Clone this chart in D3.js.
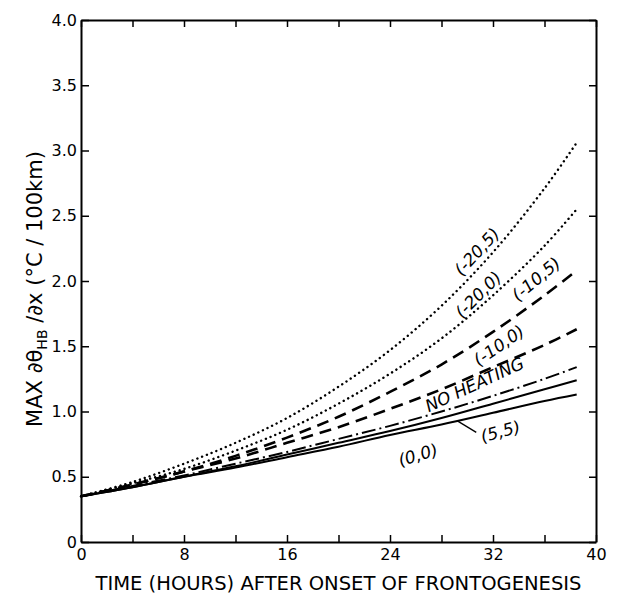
<!DOCTYPE html>
<html><head><meta charset="utf-8">
<script src="https://cdn.jsdelivr.net/npm/d3@7"></script>
<style>body{margin:0;background:#fff}</style>
</head><body><svg id="c" width="617" height="595"></svg>
<script>
// ---- data ----
const hours      = [0, 4, 8, 12, 16, 20, 24, 28, 32, 36, 38.5];
const s_m20_5    = [0.35, 0.46, 0.60, 0.76, 0.95, 1.19, 1.47, 1.81, 2.22, 2.71, 3.06];
const s_m20_0    = [0.35, 0.45, 0.56, 0.70, 0.86, 1.06, 1.29, 1.56, 1.89, 2.27, 2.55];
const s_m10_5    = [0.35, 0.44, 0.54, 0.66, 0.80, 0.96, 1.15, 1.36, 1.61, 1.89, 2.08];
const s_m10_0    = [0.35, 0.44, 0.54, 0.64, 0.76, 0.88, 1.02, 1.17, 1.34, 1.51, 1.63];
const s_noheat   = [0.35, 0.43, 0.51, 0.60, 0.69, 0.79, 0.89, 1.00, 1.12, 1.25, 1.34];
const s_5_5      = [0.35, 0.42, 0.50, 0.58, 0.67, 0.76, 0.85, 0.95, 1.06, 1.17, 1.24];
const s_0_0      = [0.35, 0.42, 0.50, 0.57, 0.65, 0.73, 0.82, 0.90, 0.99, 1.08, 1.13];
const seriesNames = ["(-20,5)", "(-20,0)", "(-10,5)", "(-10,0)", "NO HEATING", "(5,5)", "(0,0)"];
const seriesValues = [s_m20_5, s_m20_0, s_m10_5, s_m10_0, s_noheat, s_5_5, s_0_0];
const xTicks = [0, 4, 8, 12, 16, 20, 24, 28, 32, 36, 40];
const xTickLabels = [0, 8, 16, 24, 32, 40];
const yTicks = [0, 0.5, 1.0, 1.5, 2.0, 2.5, 3.0, 3.5, 4.0];
const yTickLabels = ["0", "0.5", "1.0", "1.5", "2.0", "2.5", "3.0", "3.5", "4.0"];
// label anchors in data units: [hours, value, angle]
const labelHours  = [30.8, 30.9, 35.4, 32.5, 30.6, 32.6, 26.2];
const labelValues = [2.22, 1.89, 2.01, 1.50, 1.20, 0.84, 0.66];
const labelAngles = [-47, -45, -40, -35, -25, -15, -17];

// ---- styles ----
const styleOf = {
  "(-20,5)":    {dash: "0.1,5", width: 2.4, cap: "round"},
  "(-20,0)":    {dash: "0.1,5", width: 2.4, cap: "round"},
  "(-10,5)":    {dash: "12,7", width: 2.6, cap: "butt"},
  "(-10,0)":    {dash: "12,7", width: 2.6, cap: "butt"},
  "NO HEATING": {dash: "14,4,2,4", width: 2, cap: "butt"},
  "(5,5)":      {dash: null, width: 2, cap: "butt"},
  "(0,0)":      {dash: null, width: 2, cap: "butt"}
};

const svg = d3.select("#c");
const x = d3.scaleLinear().domain([0, 40]).range([81, 596]);
const y = d3.scaleLinear().domain([0, 4]).range([542, 20]);
const FONT = "DejaVu Sans";

function styleAxis(g) {
  g.attr("font-family", FONT).attr("font-size", 16);
  g.select(".domain").attr("stroke", "#000").attr("stroke-width", 2);
  g.selectAll(".tick line").attr("stroke", "#000").attr("stroke-width", 1.5);
  g.selectAll(".tick text").attr("fill", "#000");
}

svg.append("g").attr("transform", `translate(0,${y(0)})`)
  .call(d3.axisBottom(x).tickValues(xTicks).tickSize(-7).tickSizeOuter(0).tickPadding(7)
    .tickFormat(d => xTickLabels.includes(d) ? String(d) : ""))
  .call(styleAxis);
svg.append("g").attr("transform", `translate(0,${y(4)})`)
  .call(d3.axisTop(x).tickValues(xTicks).tickSize(-7).tickSizeOuter(0).tickFormat(""))
  .call(styleAxis);
svg.append("g").attr("transform", `translate(${x(0)},0)`)
  .call(d3.axisLeft(y).tickValues(yTicks).tickSize(-8).tickSizeOuter(0).tickPadding(4)
    .tickFormat((d, i) => yTickLabels[i]))
  .call(styleAxis);
svg.append("g").attr("transform", `translate(${x(40)},0)`)
  .call(d3.axisRight(y).tickValues(yTicks).tickSize(-7).tickSizeOuter(0).tickFormat(""))
  .call(styleAxis);

// ---- curves ----
const line = d3.line().x(d => x(d[0])).y(d => y(d[1])).curve(d3.curveCatmullRom);
seriesNames.forEach((name, i) => {
  const st = styleOf[name];
  svg.append("path")
    .datum(hours.map((h, j) => [h, seriesValues[i][j]]))
    .attr("fill", "none").attr("stroke", "#000")
    .attr("stroke-width", st.width)
    .attr("stroke-linecap", st.cap)
    .attr("stroke-dasharray", st.dash)
    .attr("d", line);
});

// ---- curve labels ----
seriesNames.forEach((name, i) => {
  svg.append("text")
    .attr("transform", `translate(${x(labelHours[i])},${y(labelValues[i])}) rotate(${labelAngles[i]})`)
    .attr("text-anchor", "middle").attr("dominant-baseline", "middle")
    .attr("font-family", FONT).attr("font-style", "italic").attr("font-size", 17)
    .text(name);
});
// leader for (5,5)
svg.append("line")
  .attr("x1", x(29.2)).attr("y1", y(0.93))
  .attr("x2", x(30.7)).attr("y2", y(0.84))
  .attr("stroke", "#000").attr("stroke-width", 1.3);

// ---- axis titles ----
svg.append("text")
  .attr("x", (x(0) + x(40)) / 2).attr("y", 590)
  .attr("text-anchor", "middle")
  .attr("font-family", FONT).attr("font-size", 20)
  .attr("textLength", 486).attr("lengthAdjust", "spacingAndGlyphs")
  .text("TIME (HOURS) AFTER ONSET OF FRONTOGENESIS");

const yt = svg.append("text")
  .attr("transform", "translate(42,289) rotate(-90)")
  .attr("text-anchor", "middle")
  .attr("font-family", FONT).attr("font-size", 21);
yt.append("tspan").text("MAX ∂θ");
yt.append("tspan").attr("font-size", 14).attr("dy", 5).text("HB");
yt.append("tspan").attr("dy", -5).text(" /∂x  (°C / 100km)");
</script>
</body></html>
